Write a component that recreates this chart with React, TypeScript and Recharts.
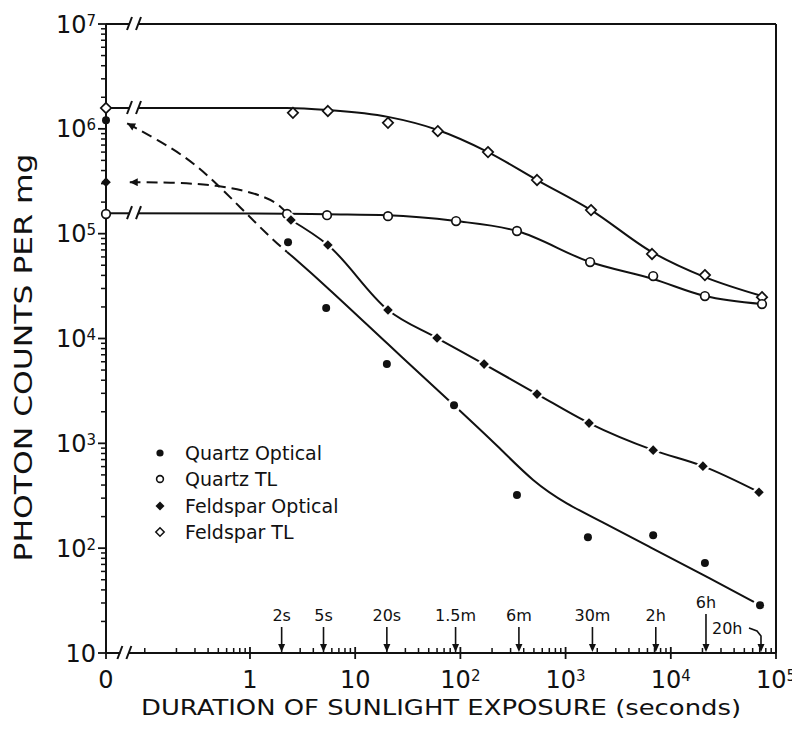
import React from "react";
import {
  ComposedChart,
  Line,
  Scatter,
  XAxis,
  YAxis,
  ReferenceLine,
  ReferenceDot,
  Legend,
} from "recharts";

// x = 0 is drawn at this position of the broken log axis
const ZERO_POS = 0.0428;
const X_MAX = 1e5;
const Y_MIN = 10;
const Y_MAX = 1e7;
const BREAK_X_SERIES = 0.079;
const BREAK_X_AXIS = 0.064;

const seriesNames = ["Quartz Optical", "Quartz TL", "Feldspar Optical", "Feldspar TL"];

// measured points (x in seconds, 0 = unbleached)
const quartzOpticalX = [0, 2.3, 5.3, 20, 87, 345, 1630, 6800, 21100, 70500];
const quartzOpticalY = [1.21e6, 8.3e4, 1.95e4, 5.7e3, 2.31e3, 321, 127, 133, 72, 28.6];

const quartzTLX = [0, 2.25, 5.4, 20.5, 91, 345, 1710, 6800, 21100, 73600];
const quartzTLY = [1.54e5, 1.54e5, 1.5e5, 1.47e5, 1.32e5, 1.06e5, 5.36e4, 3.94e4, 2.54e4, 2.13e4];

const feldsparOpticalX = [0, 2.45, 5.5, 20.5, 60, 168, 535, 1670, 6800, 20200, 68900];
const feldsparOpticalY = [3.1e5, 1.35e5, 7.8e4, 1.87e4, 1.01e4, 5.7e3, 2.95e3, 1.56e3, 861, 606, 342];

const feldsparTLX = [0, 2.56, 5.5, 20.5, 61, 183, 535, 1745, 6630, 21100, 73600];
const feldsparTLY = [1.58e6, 1.42e6, 1.48e6, 1.14e6, 9.5e5, 6.0e5, 3.25e5, 1.68e5, 6.4e4, 4.03e4, 2.48e4];

// drawn curves
const quartzOpticalExtrapX = [0.068, 0.131, 0.252, 0.445, 0.8, 1.65, 2.25];
const quartzOpticalExtrapY = [1.13e6, 7.9e5, 5.3e5, 3.25e5, 1.8e5, 8.7e4, 6.7e4];
const quartzOpticalFitX = [2.25, 5.3, 20, 87, 238, 490, 1030, 2120, 6340, 18950, 70500];
const quartzOpticalFitY = [6.7e4, 3.16e4, 9.0e3, 2.31e3, 900, 430, 262, 183, 102, 57.7, 28.6];

const feldsparOpticalExtrapX = [0.072, 0.2, 0.486, 1.04, 1.93, 2.45];
const feldsparOpticalExtrapY = [3.1e5, 3.08e5, 2.9e5, 2.5e5, 1.96e5, 1.35e5];

const quartzTLFitX = [0, 2.25, 5.4, 20.5, 91, 345, 1710, 6800, 21100, 73600];
const quartzTLFitY = [1.57e5, 1.55e5, 1.53e5, 1.5e5, 1.32e5, 1.06e5, 5.36e4, 3.69e4, 2.54e4, 2.13e4];

const feldsparTLFitX = [0, 2.25, 5.5, 20.5, 61, 183, 535, 1745, 6630, 21100, 73600];
const feldsparTLFitY = [1.58e6, 1.58e6, 1.51e6, 1.3e6, 9.75e5, 6.0e5, 3.25e5, 1.68e5, 6.67e4, 3.85e4, 2.54e4];

// exposure annotations along the x axis
const exposureLabels = ["2s", "5s", "20s", "1.5m", "6m", "30m", "2h", "6h", "20h"];
const exposureSeconds = [2, 5, 20, 90, 360, 1800, 7200, 21600, 72000];

// ticks
const xMajorTicks = [ZERO_POS, 1, 10, 100, 1000, 10000, 100000];
const yMajorTicks = [10, 100, 1000, 10000, 100000, 1e6, 1e7];
const xSubUnitTicks = [0.1, 0.2, 0.3, 0.4, 0.5, 0.6, 0.7, 0.8, 0.9];

const minorBetween = (majors: number[]) => {
  const out: number[] = [];
  for (let i = 0; i < majors.length - 1; i++) {
    for (let k = 2; k <= 9; k++) out.push(majors[i] * k);
  }
  return out;
};
const xTicks = [...xMajorTicks, ...xSubUnitTicks, ...minorBetween(xMajorTicks.slice(1))].sort((a, b) => a - b);
const yTicks = [...yMajorTicks, ...minorBetween(yMajorTicks)].sort((a, b) => a - b);

const toPoints = (xs: number[], ys: number[]) =>
  xs.map((x, i) => ({ x: x === 0 ? ZERO_POS : x, y: ys[i] }));

const quartzOptical = toPoints(quartzOpticalX, quartzOpticalY);
const quartzTL = toPoints(quartzTLX, quartzTLY);
const feldsparOptical = toPoints(feldsparOpticalX, feldsparOpticalY);
const feldsparTL = toPoints(feldsparTLX, feldsparTLY);
const quartzOpticalExtrap = toPoints(quartzOpticalExtrapX, quartzOpticalExtrapY);
const quartzOpticalFit = toPoints(quartzOpticalFitX, quartzOpticalFitY);
const feldsparOpticalExtrap = toPoints(feldsparOpticalExtrapX, feldsparOpticalExtrapY);
const feldsparOpticalLine = feldsparOptical.slice(1);
const quartzTLFit = toPoints(quartzTLFitX, quartzTLFitY);
const feldsparTLFit = toPoints(feldsparTLFitX, feldsparTLFitY);

const INK = "#111";
const FONT = "'DejaVu Sans', sans-serif";

const isDecade = (v: number) => Math.abs(Math.log10(v) - Math.round(Math.log10(v))) < 1e-9;

const tickText = (v: number, x: number, y: number, anchor: "middle" | "end") => {
  if (v === ZERO_POS)
    return (
      <text x={x} y={y} textAnchor={anchor} fontSize={24} fill={INK} fontFamily={FONT}>
        0
      </text>
    );
  const e = Math.round(Math.log10(v));
  if (e <= 1)
    return (
      <text x={x} y={y} textAnchor={anchor} fontSize={24} fill={INK} fontFamily={FONT}>
        {e === 0 ? "1" : "10"}
      </text>
    );
  return (
    <text x={x} y={y} textAnchor={anchor} fontSize={24} fill={INK} fontFamily={FONT}>
      10
      <tspan dy={-7} fontSize={15}>
        {e}
      </tspan>
    </text>
  );
};

const XTick = (props: any) => {
  const { x, y, payload } = props;
  const v = payload.value;
  const major = v === ZERO_POS || (isDecade(v) && v >= 1);
  if (!major) return <line x1={x} y1={y} x2={x} y2={y - 5} stroke={INK} strokeWidth={1.5} />;
  return (
    <g>
      <line x1={x} y1={y - 6} x2={x} y2={y + 6} stroke={INK} strokeWidth={1.8} />
      {tickText(v, x, y + 35, "middle")}
    </g>
  );
};

const YTick = (props: any) => {
  const { x, y, payload } = props;
  const v = payload.value;
  if (!isDecade(v)) return <line x1={x} y1={y} x2={x - 5} y2={y} stroke={INK} strokeWidth={1.5} />;
  return (
    <g>
      <line x1={x} y1={y} x2={x - 8} y2={y} stroke={INK} strokeWidth={1.8} />
      {tickText(v, x - 10, y + 8.5, "end")}
    </g>
  );
};

const RightTick = (props: any) => {
  const { x, y, payload } = props;
  if (!isDecade(payload.value)) return <g />;
  return <line x1={x} y1={y} x2={x - 7} y2={y} stroke={INK} strokeWidth={1.8} />;
};

const XTitle = (props: any) => {
  const vb = props.viewBox;
  return (
    <text
      x={vb.x + vb.width / 2}
      y={vb.y + 62}
      textAnchor="middle"
      fontSize={21}
      fontFamily={FONT}
      fill={INK}
      textLength={600}
      lengthAdjust="spacingAndGlyphs"
    >
      DURATION OF SUNLIGHT EXPOSURE (seconds)
    </text>
  );
};

const YTitle = (props: any) => {
  const vb = props.viewBox;
  const x = vb.x + 24;
  const y = vb.y + vb.height / 2 + 19;
  return (
    <text
      x={x}
      y={y}
      transform={`rotate(-90, ${x}, ${y})`}
      textAnchor="middle"
      fontSize={25}
      fontFamily={FONT}
      fill={INK}
      textLength={408}
      lengthAdjust="spacingAndGlyphs"
    >
      PHOTON COUNTS PER mg
    </text>
  );
};

const BreakMark = (props: any) => {
  const { cx, cy } = props;
  return (
    <g>
      <rect x={cx - 4} y={cy - 3} width={8} height={6} fill="#fff" />
      <line x1={cx - 7} y1={cy + 6} x2={cx - 2} y2={cy - 7} stroke={INK} strokeWidth={2} />
      <line x1={cx + 2} y1={cy + 6} x2={cx + 7} y2={cy - 7} stroke={INK} strokeWidth={2} />
    </g>
  );
};

const ExposureArrow = (props: any) => {
  const { cx, cy, label, variant } = props;
  const head = (
    <polygon points={`${cx - 3.5},${cy - 9} ${cx + 3.5},${cy - 9} ${cx},${cy - 1}`} fill={INK} />
  );
  if (variant === "hook") {
    return (
      <g>
        <path
          d={`M${cx - 12},${cy - 25} L${cx - 4},${cy - 22} L${cx},${cy - 17} L${cx},${cy - 8}`}
          fill="none"
          stroke={INK}
          strokeWidth={1.6}
        />
        {head}
        <text x={cx - 49} y={cy - 19} fontSize={16} fontFamily={FONT} fill={INK}>
          {label}
        </text>
      </g>
    );
  }
  const top = variant === "tall" ? 39 : 26;
  const lab = variant === "tall" ? 45 : 32;
  return (
    <g>
      <line x1={cx} y1={cy - top} x2={cx} y2={cy - 8} stroke={INK} strokeWidth={1.6} />
      {head}
      <text x={cx} y={cy - lab} textAnchor="middle" fontSize={16} fontFamily={FONT} fill={INK}>
        {label}
      </text>
    </g>
  );
};

const diamond = (cx: number, cy: number, h: number) =>
  `${cx},${cy - h} ${cx + h},${cy} ${cx},${cy + h} ${cx - h},${cy}`;

const FilledCircle = (props: any) => {
  const { cx, cy, payload } = props;
  const halo = payload && payload.x !== ZERO_POS;
  return (
    <g>
      {halo && <circle cx={cx} cy={cy} r={7} fill="#fff" />}
      <circle cx={cx} cy={cy} r={4} fill={INK} />
    </g>
  );
};
const OpenCircle = (props: any) => {
  const { cx, cy } = props;
  return <circle cx={cx} cy={cy} r={4.3} fill="#fff" stroke={INK} strokeWidth={1.7} />;
};
const FilledDiamond = (props: any) => {
  const { cx, cy, payload } = props;
  const halo = payload && payload.x !== ZERO_POS;
  return (
    <g>
      {halo && <polygon points={diamond(cx, cy, 8)} fill="#fff" />}
      <polygon points={diamond(cx, cy, 4.8)} fill={INK} />
    </g>
  );
};
const OpenDiamond = (props: any) => {
  const { cx, cy } = props;
  return <polygon points={diamond(cx, cy, 5.2)} fill="#fff" stroke={INK} strokeWidth={1.7} />;
};

const legendMarker = (i: number) => {
  if (i === 0) return <circle cx={7} cy={7} r={3.6} fill={INK} />;
  if (i === 1) return <circle cx={7} cy={7} r={3.4} fill="#fff" stroke={INK} strokeWidth={1.6} />;
  if (i === 2) return <polygon points={diamond(7, 7, 4.5)} fill={INK} />;
  return <polygon points={diamond(7, 7, 4.2)} fill="#fff" stroke={INK} strokeWidth={1.5} />;
};

const renderLegend = () => (
  <div style={{ fontFamily: FONT, fontSize: 19, color: INK }}>
    {seriesNames.map((name, i) => (
      <div key={name} style={{ display: "flex", alignItems: "center", height: 26.3 }}>
        <svg width={14} height={14} style={{ flex: "none" }}>
          {legendMarker(i)}
        </svg>
        <span style={{ marginLeft: 18, whiteSpace: "nowrap" }}>{name}</span>
      </div>
    ))}
  </div>
);

export default function App() {
  return (
    <div style={{ fontFamily: FONT, background: "#fff" }}>
      <svg width={0} height={0} style={{ position: "absolute" }}>
        <defs>
          <marker
            id="arrowHead"
            viewBox="0 0 10 10"
            refX="10"
            refY="5"
            markerWidth="12"
            markerHeight="8"
            markerUnits="userSpaceOnUse"
            orient="auto-start-reverse"
          >
            <path d="M0,0 L10,5 L0,10 z" fill={INK} />
          </marker>
        </defs>
      </svg>
      <ComposedChart width={792} height={724} margin={{ top: 16, right: 0, bottom: 0, left: 0 }}>
        <XAxis
          dataKey="x"
          type="number"
          scale="log"
          domain={[ZERO_POS, X_MAX]}
          ticks={xTicks}
          interval={0}
          tickSize={0}
          tickMargin={0}
          tickLine={false}
          tick={<XTick />}
          axisLine={{ stroke: INK, strokeWidth: 2 }}
          height={79}
          label={XTitle}
        />
        <YAxis
          dataKey="y"
          type="number"
          scale="log"
          domain={[Y_MIN, Y_MAX]}
          ticks={yTicks}
          interval={0}
          tickSize={0}
          tickMargin={0}
          tickLine={false}
          tick={<YTick />}
          axisLine={{ stroke: INK, strokeWidth: 2 }}
          width={98}
          label={YTitle}
        />
        <YAxis
          yAxisId="right"
          orientation="right"
          dataKey="y"
          type="number"
          scale="log"
          domain={[Y_MIN, Y_MAX]}
          ticks={yMajorTicks}
          interval={0}
          tickSize={0}
          tickMargin={0}
          tickLine={false}
          tick={<RightTick />}
          axisLine={{ stroke: INK, strokeWidth: 2 }}
          width={24}
        />
        <ReferenceLine y={Y_MAX} stroke={INK} strokeWidth={2} ifOverflow="visible" />

        <Line
          data={feldsparTLFit}
          dataKey="y"
          type="monotone"
          stroke={INK}
          strokeWidth={2}
          dot={false}
          activeDot={false}
          isAnimationActive={false}
        />
        <Line
          data={quartzTLFit}
          dataKey="y"
          type="monotone"
          stroke={INK}
          strokeWidth={2}
          dot={false}
          activeDot={false}
          isAnimationActive={false}
        />
        <Line
          data={quartzOpticalExtrap}
          dataKey="y"
          type="basis"
          stroke={INK}
          strokeWidth={2}
          strokeDasharray="11 6"
          markerStart="url(#arrowHead)"
          dot={false}
          activeDot={false}
          isAnimationActive={false}
        />
        <Line
          data={feldsparOpticalExtrap}
          dataKey="y"
          type="basis"
          stroke={INK}
          strokeWidth={2}
          strokeDasharray="11 6"
          markerStart="url(#arrowHead)"
          dot={false}
          activeDot={false}
          isAnimationActive={false}
        />
        <Line
          data={quartzOpticalFit}
          dataKey="y"
          type="basis"
          stroke={INK}
          strokeWidth={2}
          dot={false}
          activeDot={false}
          isAnimationActive={false}
        />
        <Line
          data={feldsparOpticalLine}
          dataKey="y"
          type="monotone"
          stroke={INK}
          strokeWidth={2}
          dot={false}
          activeDot={false}
          isAnimationActive={false}
        />

        <Scatter name={seriesNames[3]} data={feldsparTL} shape={<OpenDiamond />} isAnimationActive={false} />
        <Scatter name={seriesNames[1]} data={quartzTL} shape={<OpenCircle />} isAnimationActive={false} />
        <Scatter name={seriesNames[2]} data={feldsparOptical} shape={<FilledDiamond />} isAnimationActive={false} />
        <Scatter name={seriesNames[0]} data={quartzOptical} shape={<FilledCircle />} isAnimationActive={false} />

        <ReferenceDot x={BREAK_X_SERIES} y={Y_MAX} ifOverflow="visible" shape={<BreakMark />} />
        <ReferenceDot x={BREAK_X_SERIES} y={feldsparTLFitY[0]} ifOverflow="visible" shape={<BreakMark />} />
        <ReferenceDot x={BREAK_X_SERIES} y={quartzTLFitY[0]} ifOverflow="visible" shape={<BreakMark />} />
        <ReferenceDot x={BREAK_X_AXIS} y={Y_MIN} ifOverflow="visible" shape={<BreakMark />} />

        {exposureSeconds.map((s, i) => (
          <ReferenceDot
            key={exposureLabels[i]}
            x={s}
            y={Y_MIN}
            ifOverflow="visible"
            shape={(p: any) => (
              <ExposureArrow
                {...p}
                label={exposureLabels[i]}
                variant={i === 8 ? "hook" : i === 7 ? "tall" : "normal"}
              />
            )}
          />
        ))}

        <Legend
          layout="horizontal"
          verticalAlign="middle"
          align="center"
          wrapperStyle={{ left: 145, top: 432, width: 220, height: 110 }}
          content={renderLegend}
        />
      </ComposedChart>
    </div>
  );
}
